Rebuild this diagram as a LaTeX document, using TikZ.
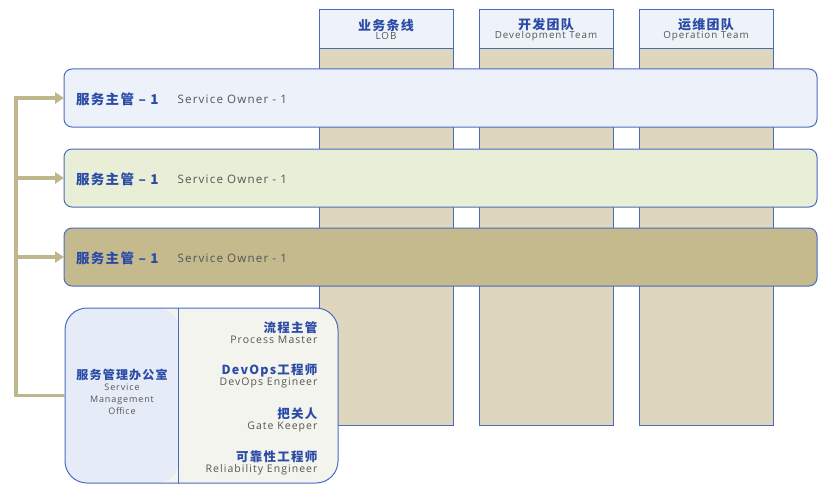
\documentclass[tikz,border=0pt]{standalone}
\usepackage{fontspec}
\setmainfont{Open Sans}[LetterSpace=10]
\newfontfamily\cjk{Noto Sans CJK SC}[LetterSpace=10]
\usetikzlibrary{positioning,arrows.meta}

\definecolor{edgeblue}{HTML}{4A6CC0}
\definecolor{headfill}{HTML}{EEF2F9}
\definecolor{coltan}{HTML}{DED6BD}
\definecolor{rowone}{HTML}{EDF2FA}
\definecolor{rowtwo}{HTML}{E8EFD6}
\definecolor{rowthree}{HTML}{C4BA8E}
\definecolor{smoleft}{HTML}{E6ECF7}
\definecolor{smoright}{HTML}{F4F4EE}
\definecolor{feedline}{HTML}{BFB78C}
\definecolor{titleblue}{HTML}{2B4BA6}
\definecolor{textgray}{HTML}{555555}

\tikzset{
  column/.style={draw=edgeblue, line width=1pt, fill=coltan, minimum width=134pt, minimum height=415pt, inner sep=0pt},
  colhead/.style={draw=edgeblue, line width=1pt, fill=headfill, minimum width=134pt, minimum height=39pt, inner sep=0pt, align=center, text=textgray, font=\fontsize{9.8}{11}\selectfont},
  ownerbar/.style={draw=edgeblue, line width=1pt, rounded corners=8pt, minimum width=753pt, minimum height=58pt, inner sep=0pt},
  cntitle/.style={font=\cjk\bfseries\fontsize{13.5}{15}\selectfont, text=titleblue},
  entext/.style={font=\fontsize{11.6}{13}\selectfont, text=textgray},
  role/.style={align=right, anchor=east, text=textgray, font=\fontsize{10.5}{12}\selectfont},
  feed/.style={draw=feedline, line width=3.5pt},
  feedarrow/.style={feed, -{Triangle[length=9pt,width=11pt]}, shorten >=-0.5pt},
}
\newcommand{\cnhead}[2][12.5]{{\cjk\bfseries\fontsize{#1}{14}\selectfont\color{titleblue}#2}}

\begin{document}
\begin{tikzpicture}[x=1pt,y=-1pt]
  \useasboundingbox[fill=white] (0,0) rectangle (820,487);

  % team columns
  \node[column] (lob) at (386,217.5) {};
  \node[column] (dev) at (546,217.5) {};
  \node[column] (ops) at (706,217.5) {};
  \node[colhead, anchor=north] (lobhead) at (lob.north) {\cnhead[13]{业务条线}\\[-1.5pt]LOB};
  \node[colhead, anchor=north] (devhead) at (dev.north) {\cnhead[13]{开发团队}\\[-1.5pt]Development Team};
  \node[colhead, anchor=north] (opshead) at (ops.north) {\cnhead[13]{运维团队}\\[-1.5pt]Operation Team};

  % service owner bars
  \node[ownerbar, fill=rowone] (so1) at (440.5,98) {};
  \node[ownerbar, fill=rowtwo] (so2) at (440.5,178) {};
  \node[ownerbar, fill=rowthree] (so3) at (440.5,257) {};
  \foreach \i in {1,2,3} {
    \node[cntitle, anchor=west] (so\i cn) at ([xshift=9pt,yshift=-1pt]so\i.west) {服务主管 – 1};
    \node[entext, anchor=west] (so\i en) at ([xshift=12pt]so\i cn.east) {Service Owner - 1};
  }

  % service management office
  \node[draw=edgeblue, line width=1pt, rounded corners=22pt, fill=smoright, minimum width=273pt, minimum height=175pt, inner sep=0pt,
        path picture={\fill[smoleft] (path picture bounding box.north west) rectangle ([xshift=114pt]path picture bounding box.south west);}] (smo) at (201.5,395.5) {};
  \draw[edgeblue, line width=1pt] ([xshift=114pt]smo.north west) -- ([xshift=114pt]smo.south west);
  \node[align=center, text=textgray, font=\fontsize{9}{12}\selectfont] (smoname) at (122,392) {\cnhead[12]{服务管理办公室}\\[-0.5pt]Service\\Management\\Office};
  \node[role] (role1) at (321,332.5) {\cnhead{流程主管}\\[-1pt]Process Master};
  \node[role] (role2) at (321,376) {\cnhead{DevOps工程师}\\[-1pt]DevOps Engineer};
  \node[role] (role3) at (321,419.5) {\cnhead{把关人}\\[-1pt]Gate Keeper};
  \node[role] (role4) at (321,463) {\cnhead{可靠性工程师}\\[-1pt]Reliability Engineer};

  % feed lines
  \coordinate (bus1) at (16,98);
  \coordinate (bus2) at (16,178);
  \coordinate (bus3) at (16,257);
  \draw[feed] (smo.west) -| ([yshift=1.75pt]bus1);
  \draw[feedarrow] (bus1) -- (so1.west);
  \draw[feedarrow] (bus2) -- (so2.west);
  \draw[feedarrow] (bus3) -- (so3.west);
\end{tikzpicture}
\end{document}
